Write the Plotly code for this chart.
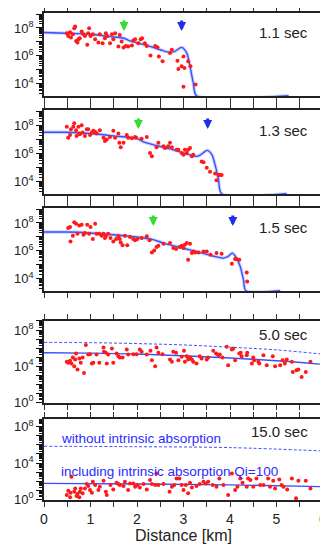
import numpy as np
import plotly.graph_objects as go

# ---------------- data (distance in km, amplitude as log10) ----------------
panel_labels = ["1.1 sec", "1.3 sec", "1.5 sec", "5.0 sec", "15.0 sec"]

obs1_x = [0.49,0.52,0.56,0.58,0.62,0.65,0.67,0.69,0.72,0.74,0.77,0.81,0.85,0.88,0.93,0.95,0.97,1.00,1.05,1.10,1.17,1.20,1.26,1.31,1.33,1.36,1.42,1.46,1.49,1.53,1.60,1.63,1.67,1.71,1.76,1.81,1.89,1.92,1.96,2.03,2.08,2.11,2.17,2.21,2.29,2.39,2.44,2.47,2.55,2.71,2.75,2.87,2.89,2.96,3.00,3.02,3.10,3.15,3.00,3.26]
obs1_y = [7.62,7.43,7.69,7.31,7.55,7.98,8.10,7.07,6.95,7.19,7.26,7.74,7.55,7.43,6.79,7.62,7.98,7.43,7.55,7.19,6.95,7.55,6.90,7.26,7.62,7.43,6.90,7.55,7.19,7.62,6.67,7.50,7.02,6.60,6.71,6.67,6.74,7.10,7.19,6.90,7.19,7.26,6.90,6.71,6.02,6.71,6.62,5.95,5.60,6.19,6.43,5.64,5.05,5.24,5.95,5.12,5.60,5.24,3.76,3.93]

obs2_x = [0.49,0.52,0.56,0.58,0.63,0.65,0.69,0.70,0.74,0.76,0.77,0.81,0.83,0.88,0.92,0.95,0.99,1.03,1.06,1.10,1.13,1.20,1.28,1.31,1.35,1.42,1.49,1.53,1.60,1.62,1.65,1.71,1.78,1.81,1.89,1.96,1.98,2.10,2.21,2.28,2.32,2.42,2.46,2.57,2.60,2.67,2.71,2.75,2.85,2.89,2.96,3.00,3.03,3.07,3.10,3.14,3.18,3.21,3.39,3.43,3.50,3.57,3.68,3.71,3.75,3.78,3.82]
obs2_y = [7.90,7.12,7.32,7.73,7.90,8.15,7.66,7.25,7.90,7.42,7.37,8.02,7.49,7.25,7.73,7.73,7.32,7.49,7.61,7.54,7.42,7.66,7.12,6.88,7.00,7.17,7.61,7.12,7.42,6.76,6.44,6.76,7.32,7.12,7.08,7.17,7.12,7.05,7.17,6.03,5.79,6.44,6.76,6.52,6.39,6.52,6.76,6.44,6.27,6.27,6.03,5.91,6.27,6.03,6.27,6.39,5.79,5.91,5.42,5.37,4.98,4.69,4.57,4.08,4.45,4.45,4.45]

obs3_x = [0.52,0.56,0.57,0.62,0.65,0.69,0.72,0.76,0.81,0.85,0.88,0.93,0.97,1.00,1.05,1.10,1.13,1.19,1.24,1.28,1.31,1.33,1.38,1.43,1.49,1.55,1.60,1.63,1.65,1.69,1.74,1.79,1.85,1.92,1.96,2.01,2.10,2.21,2.27,2.32,2.37,2.42,2.46,2.57,2.71,2.78,2.84,2.92,2.96,3.00,3.03,3.07,3.10,3.14,3.18,3.21,3.25,3.32,3.43,3.50,3.58,3.71,3.82,4.04,4.11,4.14,4.20,4.36,4.37]
obs3_y = [7.64,7.71,6.67,7.08,8.05,7.95,7.23,7.81,7.88,7.16,7.28,7.88,7.23,7.71,6.84,7.95,7.23,7.23,7.08,7.23,6.92,7.04,7.23,6.92,6.67,6.84,7.04,6.84,6.60,6.39,7.08,6.39,6.99,6.84,6.75,6.84,6.92,7.04,6.75,5.88,6.02,6.27,6.36,6.51,6.55,6.19,6.12,6.27,6.36,6.19,6.43,6.55,5.35,6.51,5.83,5.95,5.88,5.88,5.95,5.95,5.71,5.83,5.78,5.06,5.40,5.40,5.35,4.43,3.78]

obs4_x = [0.49,0.52,0.56,0.59,0.62,0.65,0.67,0.69,0.72,0.76,0.79,0.83,0.86,0.90,0.95,0.99,1.03,1.06,1.13,1.19,1.28,1.29,1.33,1.35,1.38,1.46,1.49,1.56,1.60,1.63,1.69,1.78,1.81,1.92,1.99,2.06,2.10,2.21,2.29,2.32,2.39,2.42,2.46,2.55,2.71,2.75,2.78,2.84,2.89,2.96,3.01,3.03,3.07,3.10,3.14,3.18,3.21,3.28,3.35,3.39,3.50,3.53,3.64,3.70,3.75,3.78,3.84,3.93,3.96,4.04,4.07,4.11,4.20,4.23,4.25,4.36,4.37,4.47,4.50,4.52,4.61,4.63,4.72,4.79,4.92,4.97,5.08,5.13,5.18,5.22,5.33,5.35,5.43,5.47,5.54,5.63,5.73]
obs4_y = [4.48,4.37,4.59,4.30,4.96,4.00,4.74,5.41,3.63,4.85,4.37,4.96,3.26,6.33,5.30,5.33,4.30,4.37,5.30,4.37,6.07,5.59,5.48,4.30,5.30,5.96,4.37,5.41,5.11,4.96,4.96,5.85,5.30,5.33,5.33,5.85,5.59,5.30,5.70,4.67,4.00,6.07,5.48,5.33,4.74,4.48,5.59,5.48,4.67,5.04,5.70,4.48,5.11,4.74,4.96,4.74,4.48,4.30,5.11,4.85,4.74,4.96,5.70,5.41,5.22,5.30,4.96,6.15,4.11,5.85,5.96,4.67,5.41,5.48,5.11,5.22,5.48,4.30,4.96,4.67,4.48,4.30,5.22,4.11,5.11,4.00,4.11,4.67,4.30,4.74,4.48,3.37,3.56,3.63,2.81,3.37,4.48]

obs5_x = [0.49,0.52,0.56,0.57,0.59,0.65,0.67,0.70,0.72,0.76,0.77,0.79,0.83,0.88,0.92,0.95,0.99,1.03,1.05,1.10,1.17,1.20,1.28,1.33,1.35,1.43,1.49,1.56,1.60,1.63,1.71,1.74,1.81,1.85,1.92,1.96,2.01,2.06,2.14,2.21,2.28,2.32,2.39,2.42,2.46,2.57,2.70,2.75,2.80,2.85,2.91,2.96,3.00,3.05,3.10,3.14,3.18,3.28,3.35,3.43,3.48,3.53,3.63,3.71,3.77,3.86,3.96,4.04,4.11,4.16,4.22,4.27,4.36,4.39,4.44,4.50,4.57,4.65,4.72,4.82,4.86,4.93,4.97,5.06,5.11,5.15,5.23,5.33,5.42,5.47,5.63,5.73]
obs5_y = [0.48,0.95,0.22,0.73,2.50,0.84,1.21,0.37,0.59,0.22,0.84,1.21,0.66,1.21,1.69,1.47,1.03,0.73,1.94,1.58,1.03,1.39,2.06,0.84,0.48,1.58,1.10,1.83,1.69,1.58,1.47,1.94,1.03,1.76,1.76,1.39,1.58,1.32,1.69,1.10,2.13,1.69,1.58,2.86,1.58,1.69,0.84,1.39,1.58,2.31,2.31,1.58,1.03,1.58,0.66,1.83,1.32,1.47,1.69,1.94,1.76,1.94,1.58,1.39,2.31,1.58,0.48,2.86,1.03,1.39,2.31,1.83,1.39,2.31,2.13,1.39,2.31,1.58,1.58,2.31,1.39,2.06,1.21,2.20,1.58,1.39,1.10,2.31,0.11,2.06,2.06,1.21]

model1_x = [0, 0.49, 0.99, 1.42, 1.72, 1.85, 1.99, 2.28, 2.50, 2.67, 2.80, 2.96, 3.07, 3.14, 3.21, 3.28, 5.26]
model1_y = [7.67, 7.62, 7.55, 7.38, 7.26, 7.07, 6.95, 6.67, 6.43, 6.26, 6.30, 6.60, 6.19, 5.24, 4.05, 3.12, 3.12]
model2_x = [0, 0.49, 0.99, 1.49, 1.99, 2.14, 2.71, 3.28, 3.35, 3.51, 3.61, 3.68, 3.75, 3.82, 5.22]
model2_y = [7.51, 7.51, 7.42, 7.25, 7.08, 6.83, 6.32, 5.79, 5.86, 6.22, 5.91, 5.18, 4.20, 3.12, 3.12]
model3_x = [0, 0.49, 0.99, 1.99, 2.35, 2.57, 3.21, 3.86, 3.96, 4.05, 4.14, 4.22, 4.29, 4.34, 5.08]
model3_y = [7.35, 7.35, 7.28, 6.99, 6.80, 6.55, 6.00, 5.47, 5.59, 5.83, 5.47, 4.87, 3.90, 3.12, 3.12]

model4_x = [0, 1, 2, 3, 4, 5, 6]
model4_y = [5.48, 5.45, 5.35, 5.15, 4.90, 4.60, 4.20]
noabs4_y = [6.63, 6.60, 6.50, 6.35, 6.10, 5.80, 5.33]
model5_x = [0, 2, 4, 6]
model5_y = [1.76, 1.70, 1.60, 1.40]
noabs5_y = [5.85, 5.80, 5.70, 5.33]

green_arrow_x = [1.72, 2.03, 2.35]
blue_arrow_x = [2.96, 3.52, 4.06]

x_ticks = [0, 0.5, 1, 1.5, 2, 2.5, 3, 3.5, 4, 4.5, 5, 5.5, 6]
x_ticktext = ["0", "", "1", "", "2", "", "3", "", "4", "", "5", "", "6"]
minor_digits = [2, 3, 4, 5, 6, 7, 8, 9]

# ---------------- figure ----------------
RED = "#ff1a1a"
BLUE = "rgb(60,80,255)"
FONT = "Liberation Sans, Arial, sans-serif"

obs_x = [obs1_x, obs2_x, obs3_x, obs4_x, obs5_x]
obs_y = [obs1_y, obs2_y, obs3_y, obs4_y, obs5_y]
domains = [[0.8296, 1.0], [0.6283, 0.8008], [0.4292, 0.5996], [0.1992, 0.3676], [0.0, 0.1663]]
yranges = [[3.1, 9.08], [3.1, 9.1], [3.1, 9.08], [-0.07, 9.0], [-0.07, 8.85]]

fig = go.Figure()

def ax_names(i):
    return ("x" if i == 0 else f"x{i+1}"), ("y" if i == 0 else f"y{i+1}")

models = [(model1_x, model1_y), (model2_x, model2_y), (model3_x, model3_y)]
for i, (mx, my) in enumerate(models):
    xa, ya = ax_names(i)
    fig.add_trace(go.Scatter(x=mx, y=np.power(10.0, my), mode="lines", xaxis=xa, yaxis=ya,
                             line=dict(color="rgba(110,130,255,0.35)", width=3.5, shape="spline", smoothing=0.7),
                             showlegend=False, hoverinfo="skip"))
    fig.add_trace(go.Scatter(x=mx, y=np.power(10.0, my), mode="lines", xaxis=xa, yaxis=ya,
                             line=dict(color=BLUE, width=1.4, shape="spline", smoothing=0.7),
                             showlegend=False))

for i, (mx, my, ny) in enumerate([(model4_x, model4_y, noabs4_y), (model5_x, model5_y, noabs5_y)]):
    xa, ya = ax_names(i + 3)
    fig.add_trace(go.Scatter(x=mx, y=np.power(10.0, ny), mode="lines", xaxis=xa, yaxis=ya,
                             line=dict(color=BLUE, width=1, dash="3px,2px", shape="spline"),
                             showlegend=False))
    fig.add_trace(go.Scatter(x=mx, y=np.power(10.0, my), mode="lines", xaxis=xa, yaxis=ya,
                             line=dict(color=BLUE, width=1.4, shape="spline"),
                             showlegend=False))

for i in range(5):
    xa, ya = ax_names(i)
    fig.add_trace(go.Scatter(x=obs_x[i], y=np.power(10.0, obs_y[i]), mode="markers", xaxis=xa, yaxis=ya,
                             marker=dict(color=RED, size=4, line=dict(width=0)),
                             showlegend=False))
    # empty trace so that the overlaying minor-tick axis gets drawn
    fig.add_trace(go.Scatter(x=[None], y=[None], mode="markers", xaxis=xa, yaxis=f"y{i+6}",
                             showlegend=False, hoverinfo="skip"))

# page body adds an 8px margin: figure is sized/offset to compensate
layout = dict(width=320, height=546, margin=dict(l=36, r=5, t=5, b=54, autoexpand=False),
              plot_bgcolor="white", paper_bgcolor="white",
              font=dict(family=FONT, color="#222", size=12))

for i in range(5):
    xk = "xaxis" if i == 0 else f"xaxis{i+1}"
    yk = "yaxis" if i == 0 else f"yaxis{i+1}"
    mk = f"yaxis{i+6}"
    xa, ya = ax_names(i)
    last = (i == 4)
    layout[xk] = dict(domain=[0, 1], anchor=ya, range=[0, 6], tickmode="array",
                      tickvals=x_ticks, ticktext=x_ticktext, showticklabels=last,
                      ticks="outside", ticklen=5, tickwidth=1, tickcolor="#333",
                      showline=True, linecolor="#222", linewidth=1.5, mirror="allticks",
                      showgrid=False, zeroline=False, automargin=False,
                      tickfont=dict(size=14, color="#222"))
    if last:
        layout[xk]["title"] = dict(text="Distance [km]", font=dict(size=16, color="#222"), standoff=4)
    if i < 3:
        decs = list(range(3, 10))
        labs = {4: "10<sup>4</sup>", 6: "10<sup>6</sup>", 8: "10<sup>8</sup>"}
    else:
        decs = list(range(0, 10))
        labs = {0: "10<sup>0</sup>", 4: "10<sup>4</sup>", 8: "10<sup>8</sup>"}
    layout[yk] = dict(domain=domains[i], anchor=xa, type="log", range=yranges[i],
                      tickmode="array", tickvals=[10.0 ** d for d in decs],
                      ticktext=[labs.get(d, "") for d in decs],
                      ticks="outside", ticklen=6, tickwidth=1.3, tickcolor="#111",
                      showline=True, linecolor="#222", linewidth=1.5, mirror="allticks",
                      showgrid=False, zeroline=False, automargin=False,
                      tickfont=dict(size=13, color="#222"))
    minor_vals = [m * 10.0 ** d for d in decs for m in minor_digits]
    layout[mk] = dict(overlaying=ya, anchor=xa, type="log", range=yranges[i],
                      tickmode="array", tickvals=minor_vals, ticktext=["" for _ in minor_vals],
                      ticks="outside", ticklen=3, tickwidth=1, tickcolor="#111",
                      showline=True, linecolor="#222", linewidth=1.5, mirror="allticks",
                      showgrid=False, zeroline=False, automargin=False, showticklabels=False)

fig.update_layout(**layout)

ann = []
label_y = [0.77, 0.76, 0.77, 0.84, 0.84]
for i, t in enumerate(panel_labels):
    xa, ya = ax_names(i)
    ann.append(dict(text=t, x=0.953, y=label_y[i], xref=f"{xa} domain", yref=f"{ya} domain",
                    xanchor="right", yanchor="middle", showarrow=False,
                    font=dict(size=15, color="#222")))

arrow_tip = [0.783, 0.774, 0.783]
for i in range(3):
    xa, ya = ax_names(i)
    for xv, col in ((green_arrow_x[i], "#33dd33"), (blue_arrow_x[i], "#1f2fe8")):
        ann.append(dict(x=xv, y=arrow_tip[i], xref=xa, yref=f"{ya} domain", text="",
                        showarrow=True, ax=0, ay=-12, arrowhead=2, arrowsize=0.6,
                        arrowwidth=3, arrowcolor=col, standoff=0))

ann.append(dict(text="without intrinsic absorption", x=0.32, y=6.65, xref="x5", yref="y5",
                xanchor="left", yanchor="middle", showarrow=False,
                font=dict(size=13.5, color="#2a2aff")))
ann.append(dict(text="including intrinsic absorption Qi=100", x=0.32, y=3.12, xref="x5", yref="y5",
                xanchor="left", yanchor="middle", showarrow=False,
                font=dict(size=13.5, color="#2a2aff")))
fig.update_layout(annotations=ann)

fig.write_html("out.html")
